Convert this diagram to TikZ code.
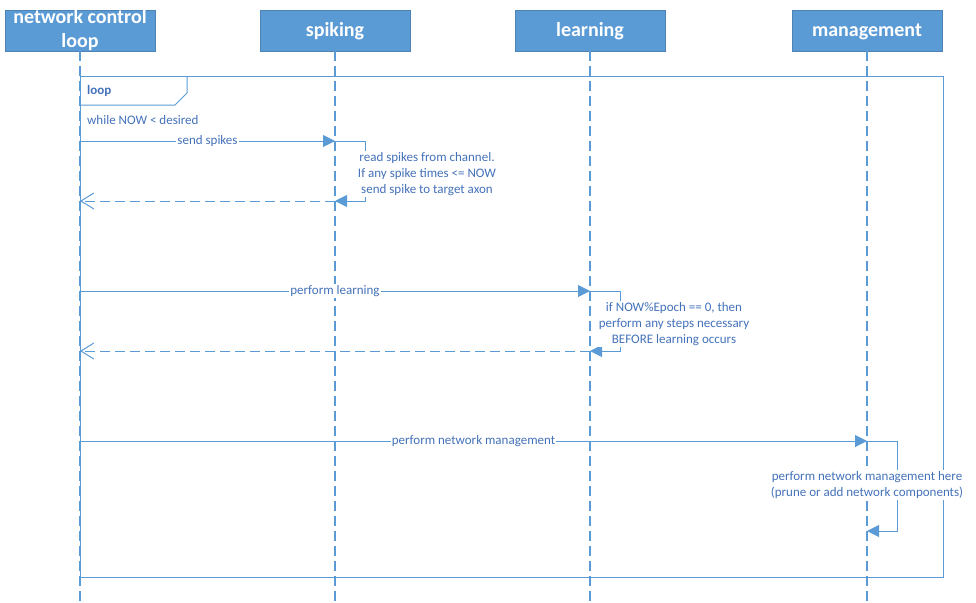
\documentclass[tikz,border=0pt]{standalone}
\usepackage{fontspec}
\setmainfont{Carlito}
\usetikzlibrary{arrows.meta,positioning}
\definecolor{seqblue}{RGB}{91,155,213}
\definecolor{seqtext}{RGB}{68,114,186}

\begin{document}
\begin{tikzpicture}[x=1pt,y=-1pt,
    head/.style={fill=seqblue, draw=seqblue!85!black, line width=0.6pt, text=white,
      font=\fontsize{20}{24}\selectfont\bfseries, minimum width=150pt,
      minimum height=41pt, align=center, inner sep=0pt},
    onehead/.style={head, text height=16pt, text depth=4pt},
    lifeline/.style={seqblue, line width=1.2pt, dash pattern=on 10pt off 5pt},
    frame/.style={seqblue, line width=1pt},
    msg/.style={seqblue, line width=1pt, -{Triangle[length=12pt,width=12pt]}},
    reply/.style={seqblue, line width=1pt, dash pattern=on 10pt off 5pt,
      -{Straight Barb[length=13pt,width=16pt]}},
    lbl/.style={text=seqtext, font=\fontsize{13}{16}\selectfont, fill=white, inner sep=1pt}]
    \useasboundingbox (0,0) rectangle (976,602);

    % draw participants
    \node[head] (ctl) at (80,30.5) {network control\\loop};
    \node[onehead] (spk) at (335,30.5) {spiking};
    \node[onehead] (lrn) at (590,30.5) {learning};
    \node[onehead] (mgt) at (867,30.5) {management};

    % draw lifelines
    \foreach \p in {ctl,spk,lrn,mgt}
      \draw[lifeline] (\p.south) -- (\p.south |- 0,602);

    % draw loop frame
    \draw[frame] (80,76) rectangle (943,577);
    \draw[frame] (80,105) -- (175,105) -- (187,93) -- (187,76);
    \node[lbl, anchor=west, font=\fontsize{13}{16}\selectfont\bfseries] (looptag) at (86,91) {loop};
    \node[lbl, anchor=west] (guard) at (86,120) {while NOW < desired};

    % message points
    \coordinate (ctlA) at (ctl |- 0,141);
    \coordinate (spkA) at (spk |- 0,141);
    \coordinate (spkB) at (spk |- 0,201);
    \coordinate (ctlB) at (ctl |- 0,201);
    \coordinate (ctlC) at (ctl |- 0,291);
    \coordinate (lrnC) at (lrn |- 0,291);
    \coordinate (lrnD) at (lrn |- 0,351);
    \coordinate (ctlD) at (ctl |- 0,351);
    \coordinate (ctlE) at (ctl |- 0,441);
    \coordinate (mgtE) at (mgt |- 0,441);
    \coordinate (mgtF) at (mgt |- 0,531);

    % draw messages
    \draw[msg] (ctlA) -- node[lbl] (m1) {send spikes} (spkA);
    \draw[msg] (spkA) -- ++(30,0) |- (spkB);
    \draw[reply] (spkB) -- (ctlB);
    \node[lbl, align=center] (n1) at (427,174) {read spikes from channel.\\If any spike times <= NOW\\send spike to target axon};

    \draw[msg] (ctlC) -- node[lbl] (m2) {perform learning} (lrnC);
    \draw[msg] (lrnC) -- ++(30,0) |- (lrnD);
    \draw[reply] (lrnD) -- (ctlD);
    \node[lbl, align=center] (n2) at (674,324) {if NOW\%Epoch == 0, then\\perform any steps necessary\\BEFORE learning occurs};

    \draw[msg] (ctlE) -- node[lbl] (m3) {perform network management} (mgtE);
    \draw[msg] (mgtE) -- ++(30,0) |- (mgtF);
    \node[lbl, align=center] (n3) at (867,485) {perform network management here\\(prune or add network components)};
  \end{tikzpicture}
\end{document}
